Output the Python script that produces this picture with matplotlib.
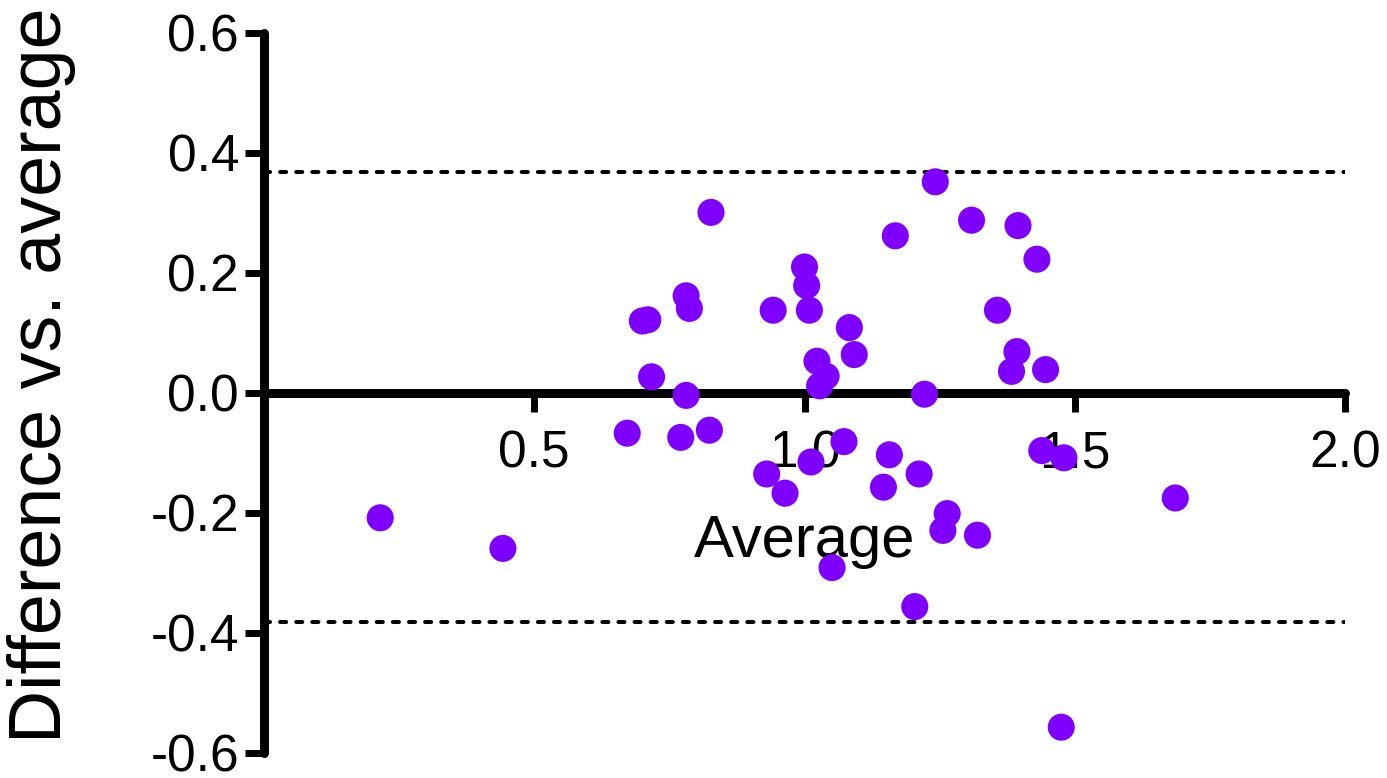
import matplotlib
matplotlib.use("Agg")
import matplotlib.pyplot as plt

plt.rcParams['font.family'] = ['Liberation Sans', 'DejaVu Sans']

average = [0.215, 0.442, 0.672, 0.700, 0.710, 0.717, 0.771, 0.781, 0.781, 0.787,
           0.824, 0.827, 0.930, 0.942, 0.964, 1.000, 1.004, 1.009, 1.012, 1.023,
           1.028, 1.040, 1.051, 1.073, 1.083, 1.092, 1.146, 1.157, 1.168, 1.204,
           1.212, 1.222, 1.242, 1.256, 1.264, 1.309, 1.320, 1.357, 1.383, 1.393,
           1.395, 1.430, 1.439, 1.446, 1.475, 1.480, 1.686]
difference = [-0.208, -0.259, -0.067, 0.120, 0.122, 0.027, -0.074, -0.004, 0.162, 0.141,
              -0.062, 0.301, -0.135, 0.138, -0.167, 0.210, 0.179, 0.138, -0.115, 0.053,
              0.012, 0.028, -0.291, -0.081, 0.109, 0.064, -0.157, -0.103, 0.262, -0.356,
              -0.135, -0.002, 0.352, -0.229, -0.201, 0.288, -0.237, 0.138, 0.036, 0.069,
              0.279, 0.223, -0.096, 0.039, -0.557, -0.108, -0.175]
upper_loa = 0.369
lower_loa = -0.381
x_ticks = [0.5, 1.0, 1.5, 2.0]
x_ticklabels = ["0.5", "1.0", "1.5", "2.0"]
y_ticks = [-0.6, -0.4, -0.2, 0.0, 0.2, 0.4, 0.6]
y_ticklabels = ["-0.6", "-0.4", "-0.2", "0.0", "0.2", "0.4", "0.6"]

W, H = 1387, 778
fig = plt.figure(figsize=(W / 100, H / 100), dpi=100)
ax = fig.add_axes([264 / W, 1 - 753 / H, 1081 / W, 720 / H])

ax.set_xlim(0, 2.0)
ax.set_ylim(-0.6, 0.6)

ax.scatter(average, difference, s=380, color='#8000FF', edgecolors='none',
           zorder=5, clip_on=False)

for yv in (upper_loa, lower_loa):
    ax.plot([0, 2.0], [yv, yv], color='black', lw=2.9,
            linestyle=(0, (1.5, 2.5)), dash_capstyle='round', zorder=3)

for s in ('top', 'right'):
    ax.spines[s].set_visible(False)
ax.spines['bottom'].set_position(('data', 0))
for s in ('left', 'bottom'):
    ax.spines[s].set_linewidth(6.5)
    ax.spines[s].set_capstyle('round')
    ax.spines[s].set_zorder(2.5)

ax.set_xticks(x_ticks)
ax.set_xticklabels(x_ticklabels)
ax.set_yticks(y_ticks)
ax.set_yticklabels(y_ticklabels)
ax.tick_params(axis='both', direction='out', length=14, width=5, labelsize=37,
               colors='black')
ax.tick_params(axis='x', pad=12)
ax.tick_params(axis='y', pad=4)

ax.set_xlabel('Average', fontsize=43)
ax.xaxis.label.set_verticalalignment('baseline')
ax.xaxis.set_label_coords(0.5, (753 - 557) / 720)

ax.set_ylabel('Difference vs. average', fontsize=53)
ax.yaxis.label.set_verticalalignment('center')
ax.yaxis.set_label_coords((42 - 264) / 1081, (753 - 375) / 720)

ax.patch.set_visible(False)
fig.savefig('out.png', dpi=100)
